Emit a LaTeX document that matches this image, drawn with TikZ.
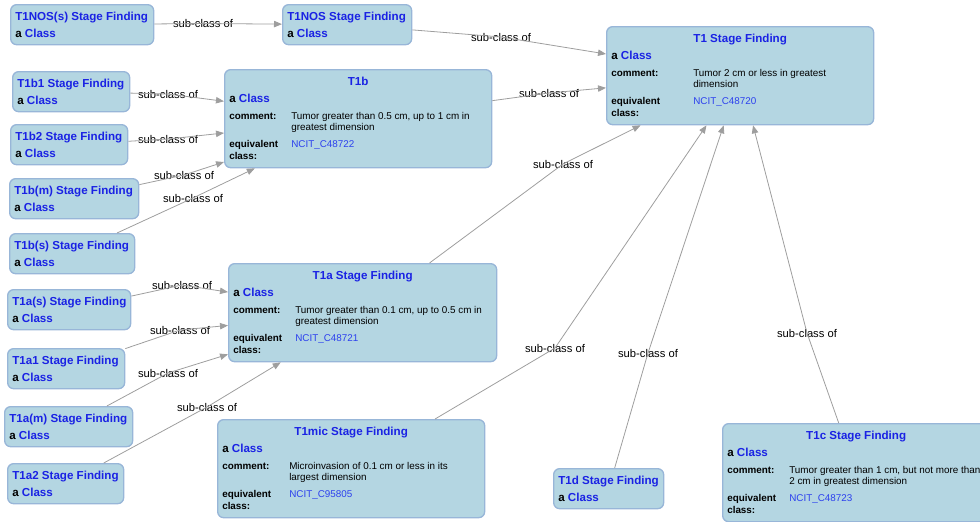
\documentclass[tikz,border=0pt]{standalone}
\usepackage{fontspec}
\setmainfont{Liberation Sans}
\usepackage{xcolor}
\usetikzlibrary{arrows.meta, calc}

\definecolor{boxfill}{RGB}{180,214,226}
\definecolor{boxline}{RGB}{152,182,216}
\definecolor{titleblue}{RGB}{26,34,228}
\definecolor{linkblue}{RGB}{44,64,238}
\definecolor{edgegray}{RGB}{158,158,158}

\tikzset{
    classbox/.style={rectangle, rounded corners=4.5pt, draw=boxline, fill=boxfill,
        line width=1pt, minimum height=30pt, anchor=north west, inner sep=0pt},
    bigbox/.style={classbox, minimum height=73.5pt},
    titletext/.style={font=\fontsize{8.7}{10}\selectfont\bfseries, text=titleblue, inner sep=0pt},
    typetext/.style={font=\fontsize{8.7}{10}\selectfont\bfseries, inner sep=0pt, anchor=base west},
    keytext/.style={font=\fontsize{7.4}{9}\selectfont\bfseries, inner sep=0pt, anchor=base west},
    valtext/.style={font=\fontsize{7.4}{9}\selectfont, inner sep=0pt, anchor=base west},
    linktext/.style={valtext, text=linkblue},
    subarrow/.style={-{Triangle[length=6pt, width=4.8pt]}, draw=edgegray, line width=0.6pt},
    sublabel/.style={font=\fontsize{8.4}{10}\selectfont, inner sep=0.5pt},
}

% class with title only: name, corner, width, title
\newcommand{\smallclass}[4]{%
    \node[classbox, minimum width=#3*0.75pt] (#1) at #2 {};
    \node[titletext, anchor=base west] (#1-title) at ($(#1.north west)+(5,16)$) {#4};
    \node[typetext] (#1-type) at ($(#1.north west)+(5,33)$) {a \textcolor{titleblue}{Class}};
}

% class with comment and equivalent class
% name, corner, width, title, value column, comment (2 lines), id
\newcommand{\bigclass}[8]{%
    \node[bigbox, minimum width=#3*0.75pt] (#1) at #2 {};
    \node[titletext, anchor=base] (#1-title) at ($(#1.north)+(0,16)$) {#4};
    \node[typetext] (#1-type) at ($(#1.north west)+(5,33.5)$) {a \textcolor{titleblue}{Class}};
    \node[keytext] (#1-ck) at ($(#1.north west)+(5,50)$) {comment:};
    \node[valtext] (#1-c1) at ($(#1.north west)+(#5,50)$) {#6};
    \node[valtext] (#1-c2) at ($(#1.north west)+(#5,61.5)$) {#7};
    \node[keytext] (#1-ek) at ($(#1.north west)+(5,78.5)$) {equivalent};
    \node[keytext] (#1-ek2) at ($(#1.north west)+(5,90)$) {class:};
    \node[linktext] (#1-eq) at ($(#1.north west)+(#5,78.5)$) {#8};
}

\begin{document}
\begin{tikzpicture}[x=0.75pt, y=-0.75pt]
    \useasboundingbox (0,0) rectangle (980,521);

    % parent classes
    \bigclass{t1}{(606,26)}{267}{T1 Stage Finding}{87}{Tumor 2 cm or less in greatest}{dimension}{NCIT\_C48720}
    \bigclass{t1b}{(224,69)}{267}{T1b}{67}{Tumor greater than 0.5 cm, up to 1 cm in}{greatest dimension}{NCIT\_C48722}
    \bigclass{t1a}{(228,263)}{268}{T1a Stage Finding}{67}{Tumor greater than 0.1 cm, up to 0.5 cm in}{greatest dimension}{NCIT\_C48721}
    \bigclass{t1mic}{(217,419)}{267}{T1mic Stage Finding}{72}{Microinvasion of 0.1 cm or less in its}{largest dimension}{NCIT\_C95805}
    \bigclass{t1c}{(722,423)}{267}{T1c Stage Finding}{67}{Tumor greater than 1 cm, but not more than}{2 cm in greatest dimension}{NCIT\_C48723}

    % leaf classes
    \smallclass{t1nos-s}{(10,4)}{143}{T1NOS(s) Stage Finding}
    \smallclass{t1nos}{(282,4)}{129}{T1NOS Stage Finding}
    \smallclass{t1b1}{(12,71)}{117}{T1b1 Stage Finding}
    \smallclass{t1b2}{(10,124)}{117}{T1b2 Stage Finding}
    \smallclass{t1bm}{(9,178)}{129}{T1b(m) Stage Finding}
    \smallclass{t1bs}{(9,233)}{125}{T1b(s) Stage Finding}
    \smallclass{t1as}{(7,289)}{123}{T1a(s) Stage Finding}
    \smallclass{t1a1}{(7,348)}{117}{T1a1 Stage Finding}
    \smallclass{t1am}{(4,406)}{128}{T1a(m) Stage Finding}
    \smallclass{t1a2}{(7,463)}{116}{T1a2 Stage Finding}
    \smallclass{t1d}{(553,468)}{110}{T1d Stage Finding}

    % edge labels
    \node[sublabel] (lb-t1nos-s) at (203,23.5) {sub-class of};
    \node[sublabel] (lb-t1nos) at (501,37) {sub-class of};
    \node[sublabel] (lb-t1b) at (549,93) {sub-class of};
    \node[sublabel] (lb-t1b1) at (168,94) {sub-class of};
    \node[sublabel] (lb-t1b2) at (168,139) {sub-class of};
    \node[sublabel] (lb-t1bm) at (184,175) {sub-class of};
    \node[sublabel] (lb-t1bs) at (193,198) {sub-class of};
    \node[sublabel] (lb-t1a) at (563,164) {sub-class of};
    \node[sublabel] (lb-t1as) at (182,285) {sub-class of};
    \node[sublabel] (lb-t1a1) at (180,330) {sub-class of};
    \node[sublabel] (lb-t1am) at (168,373) {sub-class of};
    \node[sublabel] (lb-t1a2) at (207,407) {sub-class of};
    \node[sublabel] (lb-t1mic) at (555,348) {sub-class of};
    \node[sublabel] (lb-t1d) at (648,353) {sub-class of};
    \node[sublabel] (lb-t1c) at (807,333) {sub-class of};

    % sub-class edges, through their labels
    \draw[subarrow] (t1nos-s) -- (lb-t1nos-s.center) -- (t1nos);
    \draw[subarrow] (t1nos) -- (lb-t1nos.center) -- (t1);
    \draw[subarrow] (t1b) -- (lb-t1b.center) -- (t1);
    \draw[subarrow] (t1b1) -- (lb-t1b1.center) -- (t1b);
    \draw[subarrow] (t1b2) -- (lb-t1b2.center) -- (t1b);
    \draw[subarrow] (t1bm) -- (lb-t1bm.center) -- (t1b);
    \draw[subarrow] (t1bs) -- (lb-t1bs.center) -- (t1b);
    \draw[subarrow] (t1a) -- (lb-t1a.center) -- (t1);
    \draw[subarrow] (t1as) -- (lb-t1as.center) -- (t1a);
    \draw[subarrow] (t1a1) -- (lb-t1a1.center) -- (t1a);
    \draw[subarrow] (t1am) -- (lb-t1am.center) -- (t1a);
    \draw[subarrow] (t1a2) -- (lb-t1a2.center) -- (t1a);
    \draw[subarrow] (t1mic) -- (lb-t1mic.center) -- (t1);
    \draw[subarrow] (t1d) -- (lb-t1d.center) -- (t1);
    \draw[subarrow] (t1c) -- (lb-t1c.center) -- (t1);
\end{tikzpicture}
\end{document}
